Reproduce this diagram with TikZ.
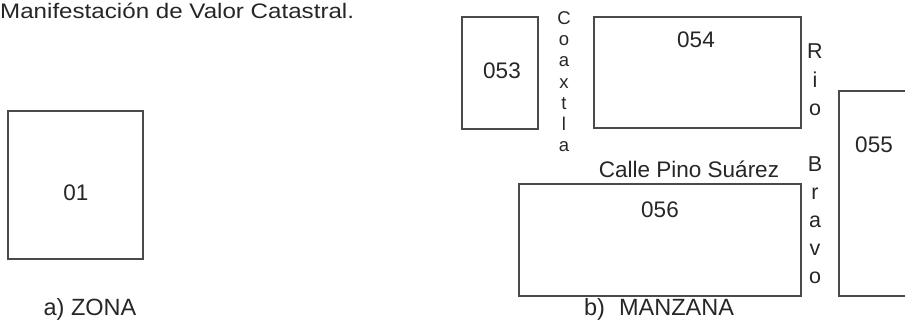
\documentclass[tikz,border=0pt]{standalone}
\usepackage{fontspec}
\setmainfont{Liberation Sans}
\usepackage{graphicx}
\definecolor{ink}{HTML}{262626}
\definecolor{edge}{HTML}{4A4A4A}
\begin{document}
\begin{tikzpicture}[x=1pt,y=-1pt,
  blk/.style={draw=edge, line width=1.5pt, inner sep=0pt, outer sep=0pt},
  lbl/.style={text=ink, inner sep=0pt, anchor=base, font=\fontsize{22.5}{26}\selectfont},
  caplbl/.style={text=ink, inner sep=0pt, anchor=base, font=\fontsize{23.5}{27}\selectfont},
  sletter/.style={text=ink, inner sep=0pt, anchor=base, font=\fontsize{18.5}{21}\selectfont},
  bletter/.style={text=ink, inner sep=0pt, anchor=base, font=\fontsize{21.5}{25}\selectfont}]
\useasboundingbox (0,0) rectangle (905,321);

% title
\node[text=ink, inner sep=0pt, anchor=base west, font=\fontsize{21}{25}\selectfont] (title) at (0,19)
  {\scalebox{1.15}[1]{Manifestación de Valor Catastral.}};

% a) ZONA
\node[blk, minimum width=135pt, minimum height=148pt] (b01) at (75.5,185) {};
\node[lbl] (t01) at (76,200) {01};
\node[caplbl] (za) at (90,315.5) {a) ZONA};

% b) MANZANA
\node[blk, minimum width=76pt, minimum height=112pt] (b053) at (500,73) {};
\node[lbl] (t053) at (502,78) {053};
\node[blk, minimum width=207pt, minimum height=111pt] (b054) at (697.5,72.5) {};
\node[lbl] (t054) at (696,48) {054};
\node[blk, minimum width=282pt, minimum height=112pt] (b056) at (660,240) {};
\node[lbl] (t056) at (660,217) {056};
\coordinate (e1) at (905,91);
\coordinate (e2) at (905,296);
\draw[draw=edge, line width=1.5pt] (e1) -| (839,296) -- (e2);
\node[lbl] (t055) at (874,152) {055};

\node[lbl] (calle) at (689,177) {Calle Pino Suárez};
\node[caplbl] (mz) at (659,315.5) {b)\hspace{0.6em}MANZANA};

% Coaxtla
\foreach \l [count=\i from 0] in {C,o,a,x,t,l,a}
  \node[sletter] (co\i) at (564,24.5+21.2*\i) {\l};

% Rio Bravo
\foreach \l [count=\i from 0] in {R,i,o}
  \node[bletter] (ri\i) at (815,59+28.1*\i) {\l};
\foreach \l [count=\i from 4] in {B,r,a,v,o}
  \node[bletter] (br\i) at (815,59+28.1*\i) {\l};
\end{tikzpicture}
\end{document}
